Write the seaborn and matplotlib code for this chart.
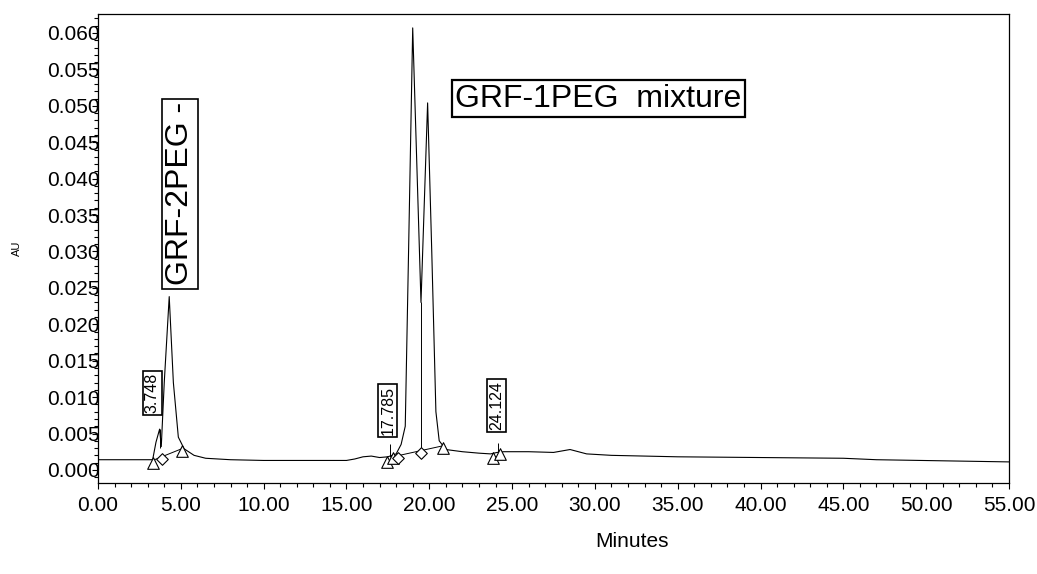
#!/usr/bin/env python3

import pandas as pd
import matplotlib.pyplot as plt
from matplotlib.ticker import MultipleLocator, FormatStrFormatter
import seaborn as sns

# Chromatogram trace (minutes, AU)
minutes = [0.0, 2.5, 3.3, 3.5, 3.72, 3.82, 4.0, 4.3, 4.55, 4.85, 5.2, 5.8, 6.5, 8.0,
           10.0, 15.0, 15.5, 16.0, 16.5, 17.0, 17.5, 18.0, 18.3, 18.55, 18.75, 19.0,
           19.5, 19.9, 20.15, 20.4, 20.6, 21.0, 22.0, 23.0, 23.7, 24.1, 24.5, 26.0,
           27.5, 28.5, 29.5, 31.0, 35.0, 40.0, 45.0, 47.0, 55.0]
au = [0.0014, 0.0014, 0.0014, 0.0038, 0.0056, 0.0032, 0.0120, 0.0238, 0.0120, 0.0045,
      0.0029, 0.0020, 0.0016, 0.0014, 0.0013, 0.0013, 0.0015, 0.0018, 0.0019, 0.0017,
      0.0018, 0.0022, 0.0035, 0.0060, 0.0300, 0.0607, 0.0230, 0.0504, 0.0300, 0.0080,
      0.0040, 0.0028, 0.0025, 0.0023, 0.0022, 0.0024, 0.0025, 0.0025, 0.0024, 0.0028,
      0.0022, 0.0020, 0.0018, 0.0017, 0.0016, 0.0014, 0.0011]

# Integration marks
tri_x = [3.3, 5.05, 17.45, 17.8, 20.8, 23.85, 24.3]
tri_y = [0.0010, 0.0026, 0.0011, 0.0017, 0.0030, 0.0016, 0.0022]
dia_x = [3.85, 18.1, 19.5]
dia_y = [0.0015, 0.0017, 0.0023]

# Peak retention-time labels
rt_labels = ['3.748', '17.785', '24.124']
rt_x = [3.27, 17.5, 24.05]
rt_y = [0.0106, 0.0082, 0.0088]

trace = pd.DataFrame({'Minutes': minutes, 'AU': au})

sns.set_style('ticks')
plt.rcParams['font.family'] = ['Liberation Sans', 'DejaVu Sans']
plt.rcParams['text.color'] = 'black'
plt.rcParams['xtick.color'] = 'black'
plt.rcParams['ytick.color'] = 'black'
plt.rcParams['axes.labelcolor'] = 'black'
plt.rcParams['axes.edgecolor'] = 'black'

fig = plt.figure(figsize=(10.37, 5.74), dpi=100)
ax = fig.add_axes([0.0945, 0.1585, 0.8785, 0.817])

sns.lineplot(data=trace, x='Minutes', y='AU', estimator=None, sort=False,
             color='black', linewidth=0.8, ax=ax)

# baselines used for integration
ax.plot([3.3, 5.05], [0.0013, 0.0029], color='black', lw=0.7)
ax.plot([17.8, 20.8], [0.0018, 0.0033], color='black', lw=0.7)
ax.vlines(19.5, 0.0025, 0.0230, color='black', lw=0.7)
ax.vlines([3.72, 17.6, 24.15], [0.0030, 0.0018, 0.0024], [0.0056, 0.0035, 0.0037],
          color='black', lw=0.7)

sns.scatterplot(x=tri_x, y=tri_y, marker='^', s=70, facecolor='white',
                edgecolor='black', linewidth=0.8, zorder=3, ax=ax)
sns.scatterplot(x=dia_x, y=dia_y, marker='D', s=35, facecolor='white',
                edgecolor='black', linewidth=0.8, zorder=3, ax=ax)

for lab, xx, yy in zip(rt_labels, rt_x, rt_y):
    ax.text(xx, yy, lab, rotation=90, ha='center', va='center', fontsize=11.5,
            bbox=dict(boxstyle='square,pad=0.12', fc='white', ec='black', lw=1.2))

ax.text(4.95, 0.0379, 'GRF-2PEG -', rotation=90, ha='center', va='center', fontsize=23,
        bbox=dict(boxstyle='square,pad=0.1', fc='white', ec='black', lw=1.2))
ax.text(30.2, 0.0510, 'GRF-1PEG  mixture', ha='center', va='center', fontsize=23,
        bbox=dict(boxstyle='square,pad=0.1', fc='white', ec='black', lw=1.6))

ax.set_xlim(0, 55)
ax.set_ylim(-0.0018, 0.0626)
ax.xaxis.set_major_locator(MultipleLocator(5))
ax.xaxis.set_minor_locator(MultipleLocator(1))
ax.yaxis.set_major_locator(MultipleLocator(0.005))
ax.yaxis.set_minor_locator(MultipleLocator(0.001))
ax.xaxis.set_major_formatter(FormatStrFormatter('%.2f'))
ax.yaxis.set_major_formatter(FormatStrFormatter('%.3f'))
ax.tick_params(axis='both', which='major', labelsize=15, length=4, width=0.8)
ax.tick_params(axis='both', which='minor', length=3, width=0.8)
ax.tick_params(axis='y', pad=-5)
ax.tick_params(axis='x', pad=5)
for sp in ax.spines.values():
    sp.set_linewidth(0.9)

ax.set_xlabel('Minutes', fontsize=15)
ax.xaxis.set_label_coords(0.586, -0.105)
ax.set_ylabel('AU', fontsize=8)
ax.yaxis.set_label_coords(-0.083, 0.5)

fig.savefig('out.png', dpi=100)
